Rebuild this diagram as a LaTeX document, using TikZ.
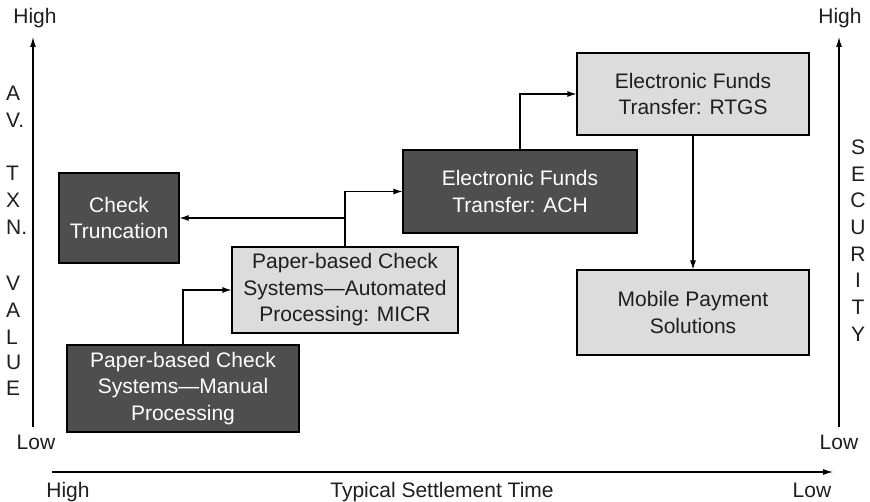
\documentclass[tikz,border=0pt]{standalone}
\usepackage{fontspec}
\setmainfont{Liberation Sans}
\usetikzlibrary{arrows.meta}

\definecolor{boxdark}{RGB}{78,78,78}
\definecolor{boxlight}{RGB}{220,220,220}
\definecolor{ink}{RGB}{30,30,30}

\begin{document}
\begin{tikzpicture}[x=1pt, y=-1pt,
    every node/.style={font=\fontsize{21}{26.5}\selectfont, text=ink, inner sep=0pt},
    darkbox/.style={draw=black, line width=1.1pt, fill=boxdark, text=white, align=center},
    lightbox/.style={draw=black, line width=1.1pt, fill=boxlight, align=center},
    flow/.style={draw=black, line width=1.1pt, -{Latex[length=9pt,width=6pt]}},
    axis/.style={draw=black, line width=1.1pt, -{Latex[length=10pt,width=6pt]}}]

\useasboundingbox (0,0) rectangle (870,502);

% boxes
\node[darkbox, minimum width=120pt, minimum height=90pt] at (119,218) (trunc) {Check\\Truncation};
\node[lightbox, minimum width=226pt, minimum height=86pt] at (345,290) (micr) {Paper-based Check\\Systems—Automated\\Processing: MICR};
\node[darkbox, minimum width=232pt, minimum height=87pt] at (183,388.5) (manual) {Paper-based Check\\Systems—Manual\\Processing};
\node[darkbox, minimum width=234pt, minimum height=83pt] at (520,191.5) (ach) {Electronic Funds\\Transfer: ACH};
\node[lightbox, minimum width=232pt, minimum height=82pt] at (693,94) (rtgs) {Electronic Funds\\Transfer: RTGS};
\node[lightbox, minimum width=232pt, minimum height=85pt] at (693,312.5) (mobile) {Mobile Payment\\Solutions};

% connectors
\coordinate (split) at (micr.north |- trunc.east);
\path[flow] (manual.north) |- (micr.west);
\path[flow] (micr.north) |- (ach.west);
\path[flow] (split) -- (trunc.east);
\path[flow] (ach.north) |- (rtgs.west);
\path[flow] (rtgs.south) -- (mobile.north);

% axes
\node at (35,18) (lhigh) {High};
\node at (36,442) (llow) {Low};
\node at (840,18) (rhigh) {High};
\node at (839,442) (rlow) {Low};
\coordinate (lbot) at (33,427);
\coordinate (ltop) at (33,37);
\coordinate (rbot) at (839,427);
\coordinate (rtop) at (839,37);
\coordinate (xstart) at (52,472);
\coordinate (xend) at (833,472);
\path[axis] (lbot) -- (ltop);
\path[axis] (rbot) -- (rtop);
\path[axis] (xstart) -- (xend);

\node[anchor=base] at (68,497.5) (bhigh) {High};
\node[anchor=base] at (442,497.5) (btitle) {Typical Settlement Time};
\node[anchor=base] at (812,497.5) (blow) {Low};

% stacked axis letters
\foreach \ch/\yy in {A/93, V./120, T/173, X/200, N./227, V/283, A/310, L/337, U/362, E/388}
    \node[anchor=west] at (6,\yy) {\ch};
\foreach \ch/\yy in {S/147, E/174, C/200, U/227, R/254, I/280, T/307, Y/334}
    \node at (858,\yy) {\ch};

\end{tikzpicture}
\end{document}
